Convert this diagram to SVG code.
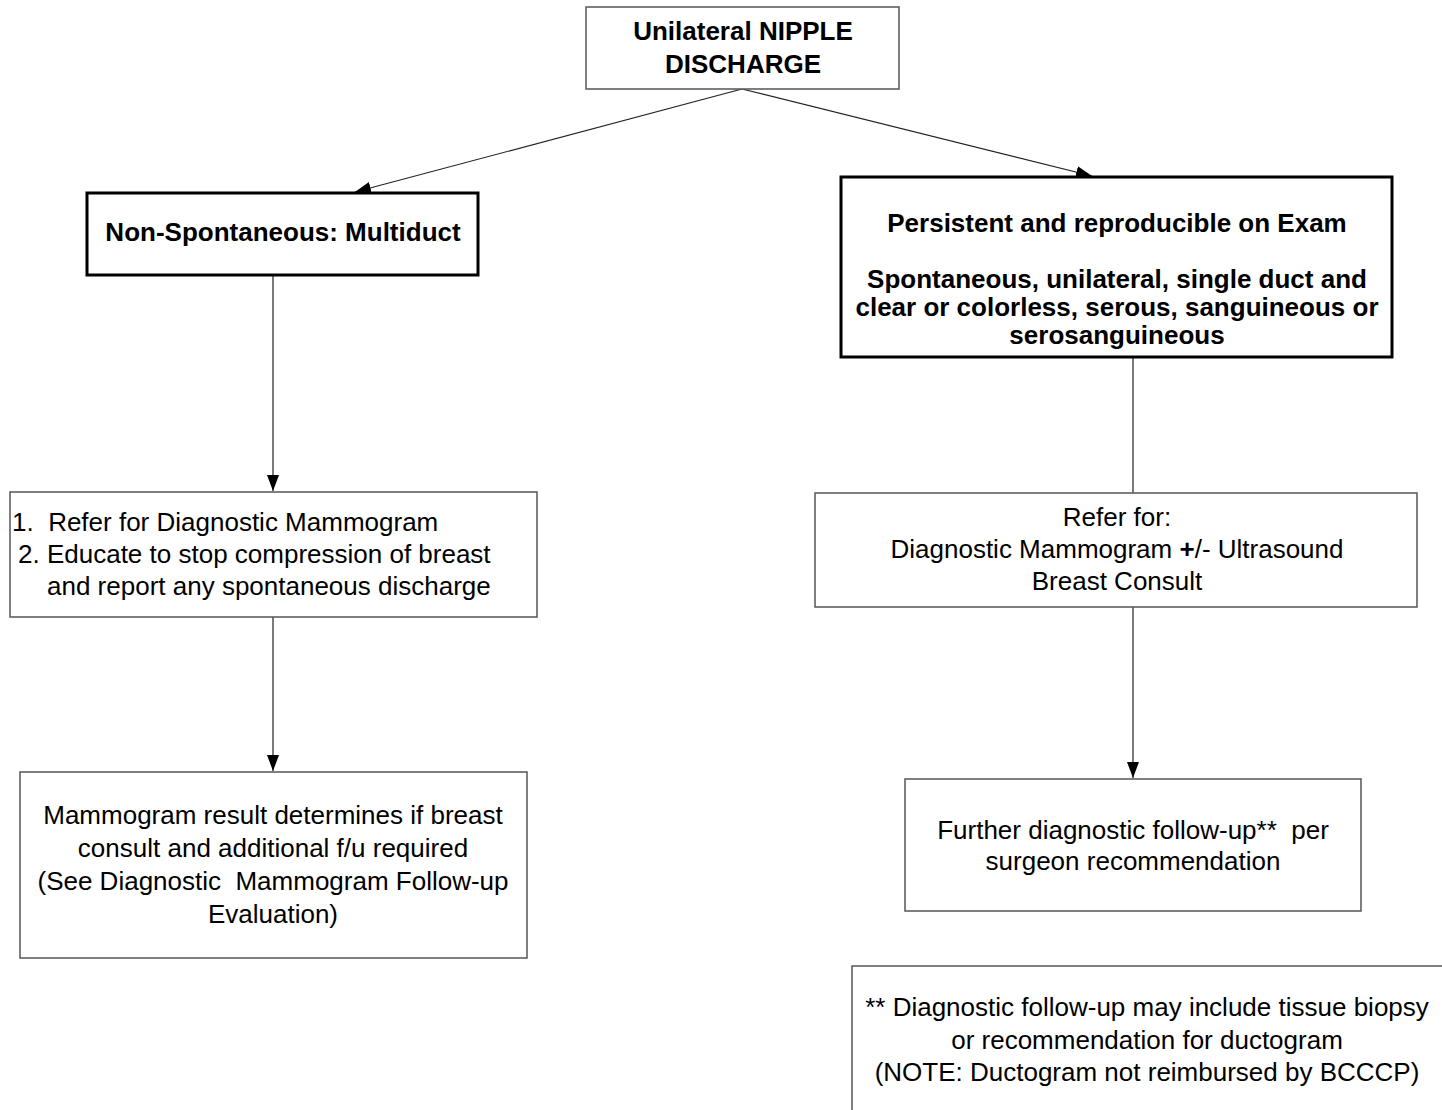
<svg xmlns="http://www.w3.org/2000/svg" width="1442" height="1110" viewBox="0 0 1442 1110">
  <defs>
    <marker id="arrow" markerWidth="12" markerHeight="18" refX="11" refY="6" orient="auto" markerUnits="userSpaceOnUse" viewBox="0 0 12 18">
      <path d="M0,0 L12,6 L0,12 Z" fill="#000"/>
    </marker>
    <marker id="arrowhead" markerWidth="16" markerHeight="12" refX="16" refY="6" orient="auto" markerUnits="userSpaceOnUse" viewBox="0 0 16 12">
      <path d="M0,0 L16,6 L0,12 Z" fill="#000"/>
    </marker>
  </defs>
  <style>
    text { font-family: "Liberation Sans", Arial, sans-serif; font-size: 26px; fill: #000; white-space: pre; }
    .b { font-weight: bold; }
    .c { text-anchor: middle; }
    .thin { fill: #fff; stroke: #555; stroke-width: 1.5; }
    .thick { fill: #fff; stroke: #000; stroke-width: 3; }
    .edge { fill: none; stroke: #222; stroke-width: 1.2; }
  </style>

  <rect width="1442" height="1110" fill="#fff"/>

  <!-- connectors -->
  <g id="connectors">
    <line class="edge" x1="742" y1="89" x2="355" y2="192" marker-end="url(#arrowhead)"/>
    <line class="edge" x1="742" y1="89" x2="1092" y2="176" marker-end="url(#arrowhead)"/>
    <line class="edge" x1="273" y1="275" x2="273" y2="491" marker-end="url(#arrowhead)"/>
    <line class="edge" x1="273" y1="617" x2="273" y2="771" marker-end="url(#arrowhead)"/>
    <line class="edge" x1="1133" y1="357" x2="1133" y2="493"/>
    <line class="edge" x1="1133" y1="607" x2="1133" y2="778" marker-end="url(#arrowhead)"/>
  </g>

  <!-- start node -->
  <g id="start">
    <rect class="thin" x="586" y="7" width="313" height="82"/>
    <text class="b c" x="743" y="40">Unilateral NIPPLE</text>
    <text class="b c" x="743" y="73">DISCHARGE</text>
  </g>

  <!-- left branch -->
  <g id="non-spontaneous">
    <rect class="thick" x="87" y="193" width="391" height="82"/>
    <text class="b c" x="283" y="241">Non-Spontaneous: Multiduct</text>
  </g>

  <g id="refer-mammogram">
    <rect class="thin" x="10" y="492" width="527" height="125"/>
    <text x="12" y="531">1.  Refer for Diagnostic Mammogram</text>
    <text x="18" y="563">2. Educate to stop compression of breast</text>
    <text x="47" y="595">and report any spontaneous discharge</text>
  </g>

  <g id="mammogram-result">
    <rect class="thin" x="20" y="772" width="507" height="186"/>
    <text class="c" x="273" y="824">Mammogram result determines if breast</text>
    <text class="c" x="273" y="857">consult and additional f/u required</text>
    <text class="c" x="273" y="890">(See Diagnostic  Mammogram Follow-up</text>
    <text class="c" x="273" y="923">Evaluation)</text>
  </g>

  <!-- right branch -->
  <g id="persistent">
    <rect class="thick" x="841" y="177" width="551" height="180"/>
    <text class="b c" x="1117" y="232">Persistent and reproducible on Exam</text>
    <text class="b c" x="1117" y="288">Spontaneous, unilateral, single duct and</text>
    <text class="b c" x="1117" y="316">clear or colorless, serous, sanguineous or</text>
    <text class="b c" x="1117" y="344">serosanguineous</text>
  </g>

  <g id="refer-consult">
    <rect class="thin" x="815" y="493" width="602" height="114"/>
    <text class="c" x="1117" y="526">Refer for:</text>
    <text class="c" x="1117" y="558">Diagnostic Mammogram <tspan class="b">+</tspan>/- Ultrasound</text>
    <text class="c" x="1117" y="590">Breast Consult</text>
  </g>

  <g id="further-follow-up">
    <rect class="thin" x="905" y="779" width="456" height="132"/>
    <text class="c" x="1133" y="839">Further diagnostic follow-up**  per</text>
    <text class="c" x="1133" y="870">surgeon recommendation</text>
  </g>

  <!-- footnote -->
  <g id="footnote">
    <rect class="thin" x="852" y="966" width="620" height="170"/>
    <text class="c" x="1147" y="1016">** Diagnostic follow-up may include tissue biopsy</text>
    <text class="c" x="1147" y="1049">or recommendation for ductogram</text>
    <text class="c" x="1147" y="1081">(NOTE: Ductogram not reimbursed by BCCCP)</text>
  </g>
</svg>
